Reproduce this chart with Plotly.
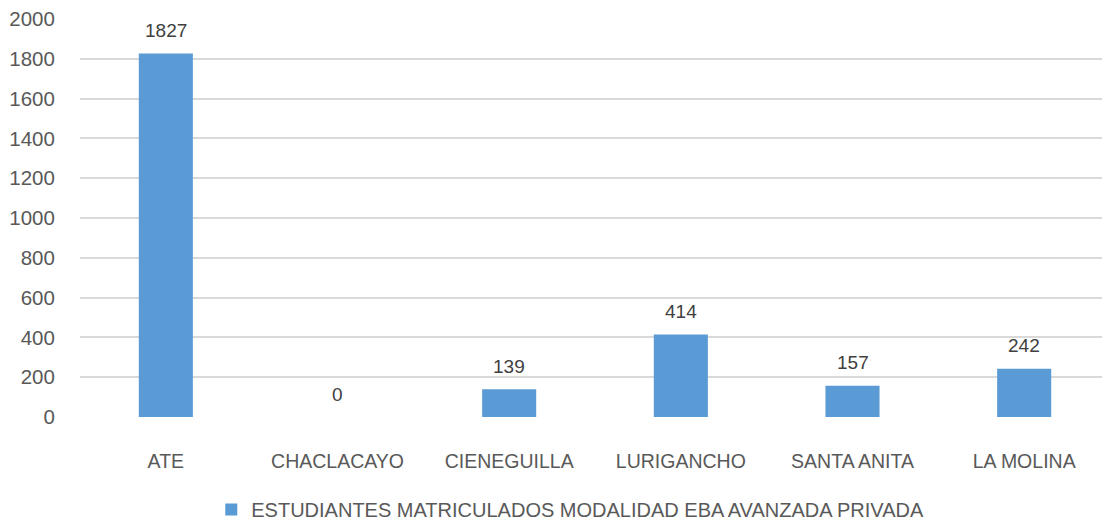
import plotly.graph_objects as go

categories = ["ATE", "CHACLACAYO", "CIENEGUILLA", "LURIGANCHO", "SANTA ANITA", "LA MOLINA"]
values = [1827, 0, 139, 414, 157, 242]
series_name = "ESTUDIANTES MATRICULADOS MODALIDAD EBA AVANZADA PRIVADA"
y_ticks = [0, 200, 400, 600, 800, 1000, 1200, 1400, 1600, 1800, 2000]

FONT = "Liberation Sans"
BAR = "#5b9bd5"

fig = go.Figure()
fig.add_trace(go.Bar(
    x=categories, y=values, name=series_name,
    marker=dict(color=BAR, line=dict(width=0)),
    showlegend=True,
))

for c, v in zip(categories, values):
    fig.add_annotation(x=c, y=v, text=str(v), showarrow=False,
                       yshift=23, font=dict(family=FONT, size=19, color="#404040"))

fig.update_layout(
    width=1102, height=512,
    margin=dict(l=72, r=0, t=10, b=102, autoexpand=False),
    paper_bgcolor="white", plot_bgcolor="white",
    bargap=0.685,
    font=dict(family=FONT, size=19, color="#595959"),
    legend=dict(orientation="h", x=0.476, xanchor="center", y=-0.229, yanchor="middle",
                font=dict(family=FONT, size=20, color="#595959"),
                itemwidth=30),
    xaxis=dict(showgrid=False, showline=False, ticks="outside", ticklen=26, automargin=False,
               tickcolor="rgba(0,0,0,0)", tickfont=dict(size=19.5, color="#595959")),
    yaxis=dict(range=[-5, 2005], tickvals=y_ticks, showgrid=True, gridcolor="#d9d9d9",
               gridwidth=2, zeroline=False, showline=False, ticks="outside", ticklen=20,
               automargin=False, ticklabeloverflow="allow",
               tickcolor="rgba(0,0,0,0)", tickfont=dict(size=20.5, color="#595959")),
)

fig.write_html("out.html")
